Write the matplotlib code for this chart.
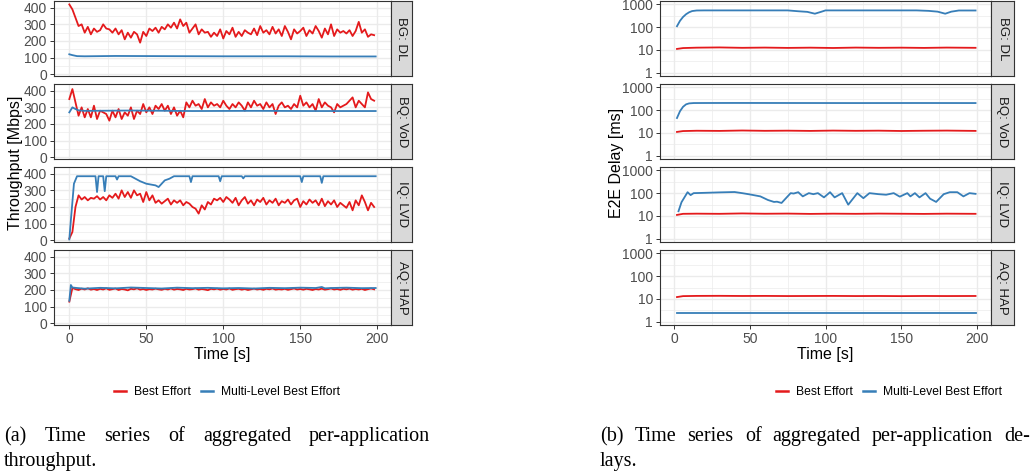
import numpy as np
import matplotlib
matplotlib.use("Agg")
import matplotlib.pyplot as plt
from matplotlib.lines import Line2D
from matplotlib.ticker import FixedLocator, NullFormatter

plt.rcParams['font.family'] = ['Liberation Sans', 'DejaVu Sans']

W, H = 1033, 472
RED = '#E41A1C'
BLUE = '#377EB8'

facets = ['BG: DL', 'BQ: VoD', 'IQ: LVD', 'AQ: HAP']
series_names = ['Best Effort', 'Multi-Level Best Effort']

# ---- throughput [Mbps], Best Effort sampled every 2 s ----
tp_time = np.arange(0, 200, 2)
tp_dl_be = [420, 390, 340, 290, 300, 250, 285, 240, 275, 255,
            265, 300, 275, 270, 250, 275, 240, 265, 210, 250,
            220, 255, 240, 190, 255, 230, 275, 260, 280, 250,
            285, 270, 300, 280, 310, 275, 330, 290, 310, 250,
            275, 300, 240, 270, 250, 255, 225, 250, 230, 270,
            215, 260, 240, 280, 225, 255, 230, 265, 250, 240,
            275, 235, 290, 250, 265, 240, 285, 245, 270, 230,
            290, 255, 210, 270, 245, 260, 280, 230, 265, 245,
            290, 260, 220, 275, 240, 300, 230, 270, 250, 260,
            245, 265, 230, 260, 315, 250, 270, 225, 240, 235]
tp_vod_be = [350, 410, 330, 250, 300, 240, 290, 240, 310, 230,
             280, 270, 260, 220, 280, 240, 290, 230, 270, 250,
             300, 230, 280, 260, 320, 270, 300, 260, 310, 290,
             320, 280, 310, 260, 300, 250, 280, 240, 330, 300,
             340, 310, 320, 290, 350, 300, 330, 310, 320, 300,
             340, 310, 290, 320, 300, 330, 310, 280, 330, 300,
             340, 310, 320, 290, 330, 300, 320, 260, 310, 330,
             300, 310, 290, 320, 300, 370, 310, 330, 300, 320,
             280, 350, 300, 330, 310, 300, 270, 320, 300, 310,
             320, 340, 360, 300, 340, 320, 300, 390, 350, 340]
tp_lvd_be = [10, 50, 200, 270, 245, 260, 240, 255, 250, 265,
             245, 260, 240, 270, 255, 280, 250, 300, 260, 290,
             255, 300, 270, 280, 230, 290, 240, 270, 225, 240,
             220, 235, 250, 215, 240, 225, 240, 210, 230, 220,
             200, 190, 160, 210, 185, 230, 215, 250, 240, 255,
             230, 260, 245, 225, 255, 210, 240, 260, 220, 240,
             210, 245, 230, 255, 215, 240, 225, 250, 210, 235,
             225, 245, 215, 240, 250, 200, 235, 215, 245, 225,
             240, 210, 250, 205, 235, 215, 240, 200, 225, 210,
             195, 230, 180, 240, 210, 270, 230, 180, 225, 200]
tp_hap_be = [130, 212, 205, 200, 208, 203, 210, 202, 206, 200,
             207, 203, 210, 201, 205, 209, 200, 206, 203, 198,
             207, 204, 210, 202, 206, 200, 205, 203, 208, 204,
             201, 207, 203, 209, 202, 206, 204, 200, 207, 203,
             205, 209, 202, 206, 203, 199, 207, 204, 208, 202,
             206, 203, 209, 201, 205, 207, 202, 206, 200, 204,
             208, 203, 206, 201, 207, 204, 209, 202, 205, 203,
             207, 201, 205, 209, 203, 206, 202, 207, 204, 200,
             206, 203, 208, 202, 205, 209, 203, 206, 201, 207,
             204, 208, 202, 206, 203, 207, 200, 205, 209, 204]

# ---- throughput, Multi-Level Best Effort ----
tp_dl_ml_t = [0, 2, 5, 10, 30, 60, 100, 140, 170, 199]
tp_dl_ml = [120, 115, 109, 108, 110, 109, 108, 108, 107, 107]
tp_vod_ml_t = [0, 2, 4, 6, 10, 40, 80, 120, 160, 199]
tp_vod_ml = [270, 300, 290, 282, 279, 281, 278, 279, 278, 278]
tp_lvd_ml_t = [0, 1, 3, 5, 17, 18, 19, 20, 22, 23, 24, 25, 30, 31, 32, 40, 43,
               46, 50, 53, 56, 58, 60, 62, 65, 68, 72, 78, 79, 80, 97, 98, 99,
               112, 113, 114, 150, 151, 152, 163, 164, 165, 199]
tp_lvd_ml = [5, 120, 340, 385, 385, 290, 385, 385, 385, 295, 385, 385, 385, 365,
             385, 385, 370, 355, 340, 335, 330, 320, 340, 360, 370, 385, 385,
             385, 350, 385, 385, 355, 385, 385, 372, 385, 385, 350, 385, 385,
             345, 385, 385]
tp_hap_ml_t = [0, 1, 2, 5, 10, 20, 30, 40, 50, 60, 70, 80, 90, 100, 110, 120,
               130, 140, 150, 160, 164, 166, 170, 180, 190, 199]
tp_hap_ml = [135, 230, 215, 212, 208, 213, 210, 215, 212, 209, 214, 211, 213,
             210, 212, 209, 213, 211, 214, 212, 218, 210, 212, 214, 211, 212]

# ---- E2E delay [ms], Best Effort ----
dl_be_t = [2, 6, 15, 30, 45, 60, 75, 90, 105, 120, 135, 150, 165, 180, 199]
dl_dl_be = [11, 12, 12.5, 12.8, 12.3, 12.6, 12.2, 12.5, 12.1, 12.6, 12.3, 12.5, 12.2, 12.6, 12.3]
dl_vod_be = [11, 12, 12.4, 12.2, 12.7, 12.3, 12.5, 12.2, 12.6, 12.3, 12.5, 12.1, 12.4, 12.6, 12.2]
dl_lvd_be = [11, 12.3, 12.5, 12.3, 12.8, 12.4, 12.6, 12.2, 12.5, 12.3, 12.6, 12.4, 12.2, 12.5, 12.3]
dl_hap_be = [12, 13.2, 13.5, 13.6, 13.4, 13.5, 13.3, 13.4, 13.5, 13.3, 13.4, 13.2, 13.4, 13.3, 13.4]

# ---- E2E delay [ms], Multi-Level Best Effort ----
dl_dl_ml_t = [2, 4, 6, 8, 10, 12, 15, 20, 40, 60, 75, 82, 88, 93, 97, 100,
              120, 140, 160, 168, 174, 179, 183, 188, 199]
dl_dl_ml = [110, 190, 280, 370, 450, 510, 540, 545, 545, 545, 545, 500, 470,
            390, 470, 545, 545, 545, 545, 520, 480, 390, 480, 540, 540]
dl_vod_ml_t = [2, 4, 6, 8, 10, 13, 20, 40, 80, 120, 160, 199]
dl_vod_ml = [45, 90, 140, 180, 198, 205, 206, 207, 206, 205, 206, 205]
dl_lvd_ml_t = [3, 5, 9, 11, 13, 20, 30, 40, 45, 50, 57, 62, 66, 68, 71, 77, 79,
               82, 85, 89, 92, 95, 99, 103, 106, 111, 115, 121, 125, 129, 135,
               140, 145, 149, 154, 156, 159, 162, 166, 169, 173, 178, 182, 187,
               191, 195, 199]
dl_lvd_ml = [16, 40, 110, 82, 100, 103, 108, 112, 100, 88, 72, 50, 41, 42, 37,
             100, 96, 110, 72, 100, 90, 100, 65, 110, 65, 100, 31, 100, 60, 100,
             90, 85, 100, 70, 100, 72, 100, 65, 100, 57, 41, 90, 110, 110, 72,
             100, 93]
dl_hap_ml_t = [2, 50, 100, 150, 199]
dl_hap_ml = [2.5, 2.5, 2.5, 2.5, 2.5]

tp_series = [
    (tp_time, tp_dl_be, tp_dl_ml_t, tp_dl_ml),
    (tp_time, tp_vod_be, tp_vod_ml_t, tp_vod_ml),
    (tp_time, tp_lvd_be, tp_lvd_ml_t, tp_lvd_ml),
    (tp_time, tp_hap_be, tp_hap_ml_t, tp_hap_ml),
]
dl_series = [
    (dl_be_t, dl_dl_be, dl_dl_ml_t, dl_dl_ml),
    (dl_be_t, dl_vod_be, dl_vod_ml_t, dl_vod_ml),
    (dl_be_t, dl_lvd_be, dl_lvd_ml_t, dl_lvd_ml),
    (dl_be_t, dl_hap_be, dl_hap_ml_t, dl_hap_ml),
]

fig = plt.figure(figsize=(W / 100, H / 100), dpi=100)

tops = [1, 84, 167, 250]
bots = [76, 159, 242, 325]
GRID = '#EBEBEB'
BORDER = '#333333'


def rect(x0, x1, top, bot):
    return [x0 / W, 1 - bot / H, (x1 - x0) / W, (bot - top) / H]


def draw_block(x0, x1, xs, series, logy, xlim):
    for i, (tb, vb, tm, vm) in enumerate(series):
        ax = fig.add_axes(rect(x0, x1, tops[i], bots[i]))
        ax.plot(tb, vb, color=RED, lw=1.3, zorder=3)
        ax.plot(tm, vm, color=BLUE, lw=1.3, zorder=3)
        ax.set_xlim(*xlim)
        if logy:
            ax.set_yscale('log')
            ax.set_ylim(10 ** -0.15, 10 ** 3.15)
            ax.yaxis.set_major_locator(FixedLocator([1, 10, 100, 1000]))
            ax.yaxis.set_minor_locator(FixedLocator([10 ** 0.5, 10 ** 1.5, 10 ** 2.5]))
            ax.set_yticklabels(['1', '10', '100', '1000'])
        else:
            ax.set_ylim(-10.5, 440.5)
            ax.yaxis.set_major_locator(FixedLocator([0, 100, 200, 300, 400]))
            ax.yaxis.set_minor_locator(FixedLocator([50, 150, 250, 350]))
        ax.yaxis.set_minor_formatter(NullFormatter())
        ax.xaxis.set_major_locator(FixedLocator([0, 50, 100, 150, 200]))
        ax.xaxis.set_minor_locator(FixedLocator([25, 75, 125, 175]))
        ax.grid(True, which='major', color=GRID, lw=1.0, zorder=0)
        ax.grid(True, which='minor', color=GRID, lw=0.5, zorder=0)
        ax.set_axisbelow(True)
        for sp in ax.spines.values():
            sp.set_color(BORDER)
            sp.set_linewidth(0.8)
        ax.tick_params(which='major', length=3, width=0.7, color=BORDER,
                       labelsize=10, labelcolor='#4D4D4D', pad=2)
        ax.tick_params(which='minor', length=0)
        if i < 3:
            ax.tick_params(axis='x', which='major', length=0, labelbottom=False)
        # facet strip
        sx = fig.add_axes(rect(x1, xs, tops[i], bots[i]))
        sx.set_facecolor('#D9D9D9')
        sx.set_xticks([])
        sx.set_yticks([])
        for sp in sx.spines.values():
            sp.set_color(BORDER)
            sp.set_linewidth(0.8)
        sx.text(0.5, 0.5, facets[i], rotation=-90, ha='center', va='center',
                fontsize=9.5, color='#1A1A1A', transform=sx.transAxes)


draw_block(54, 391, 412, tp_series, False, (-9.95, 208.95))
draw_block(660, 991, 1014, dl_series, True, (-9.2, 209.2))

fig.text(16 / W, 1 - 163 / H, 'Throughput [Mbps]', rotation=90,
         ha='center', va='center', fontsize=11.5)
fig.text(617 / W, 1 - 163 / H, 'E2E Delay [ms]', rotation=90,
         ha='center', va='center', fontsize=11.5)
fig.text(222 / W, 1 - 355 / H, 'Time [s]', ha='center', va='center', fontsize=11.5)
fig.text(825 / W, 1 - 355 / H, 'Time [s]', ha='center', va='center', fontsize=11.5)

handles = [Line2D([], [], color=RED, lw=1.8), Line2D([], [], color=BLUE, lw=1.8)]
for cx in (227, 889):
    fig.legend(handles, series_names, loc='center', bbox_to_anchor=(cx / W, 1 - 392 / H),
               ncol=2, frameon=False, fontsize=8.7, handlelength=1.0,
               handletextpad=0.7, columnspacing=0.8)

# captions (justified first lines)
cap_kw = dict(fontsize=14.5, family=['Liberation Serif', 'DejaVu Serif'], va='baseline')
renderer = fig.canvas.get_renderer()


def justify(words, x0, x1, y):
    texts = [fig.text(0, 1 - y / H, w, **cap_kw) for w in words]
    widths = [t.get_window_extent(renderer).width for t in texts]
    gap = (x1 - x0 - sum(widths)) / (len(words) - 1)
    x = x0
    for t, w in zip(texts, widths):
        t.set_x(x / W)
        x += w + gap


justify('(a) Time series of aggregated per-application'.split(), 4, 430, 441)
fig.text(4 / W, 1 - 466 / H, 'throughput.', **cap_kw)
justify('(b) Time series of aggregated per-application de-'.split(), 600, 1030, 441)
fig.text(600 / W, 1 - 466 / H, 'lays.', **cap_kw)

fig.savefig('out.png', dpi=100)
